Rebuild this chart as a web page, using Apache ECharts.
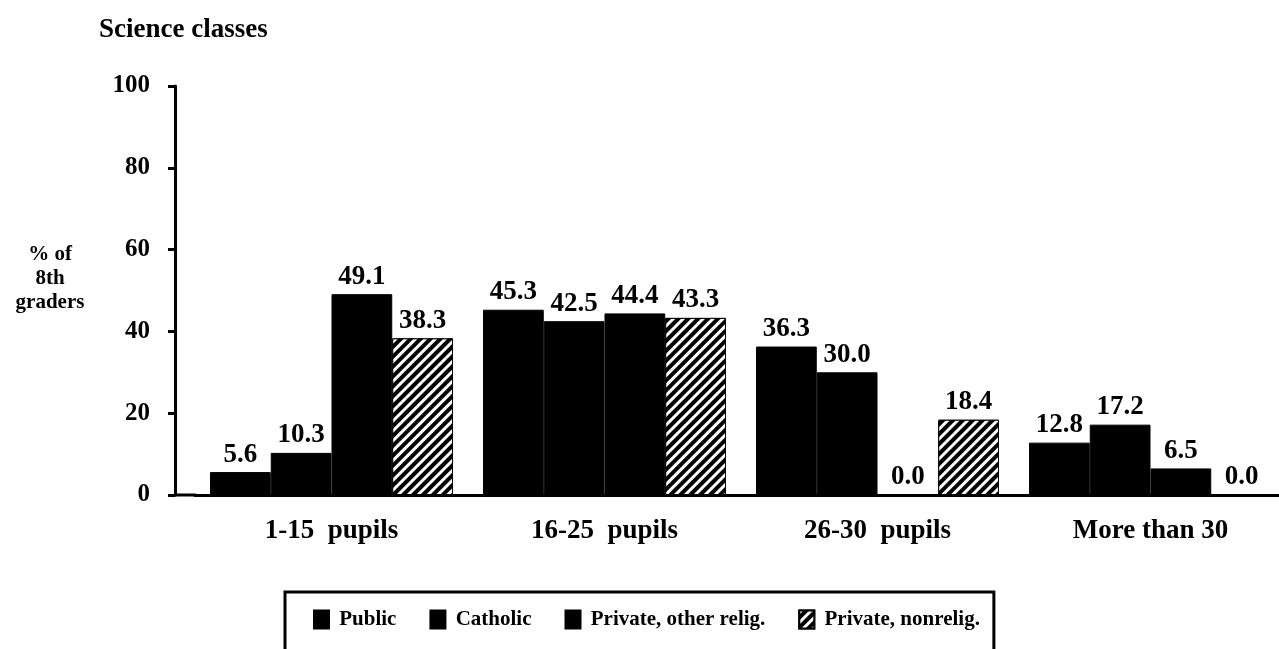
<!DOCTYPE html>
<html><head><meta charset="utf-8">
<script src="https://cdn.jsdelivr.net/npm/echarts@6/dist/echarts.min.js"></script>
<style>html,body{margin:0;padding:0;background:#fff}#c{width:1279px;height:649px}</style>
</head><body><div id="c"></div>
<script>
const categories = ['1-15  pupils', '16-25  pupils', '26-30  pupils', 'More than 30'];
const seriesNames = ['Public', 'Catholic', 'Private, other relig.', 'Private, nonrelig.'];
const publicVals = [5.6, 45.3, 36.3, 12.8];
const catholicVals = [10.3, 42.5, 30.0, 17.2];
const privOtherVals = [49.1, 44.4, 0.0, 6.5];
const privNonVals = [38.3, 43.3, 18.4, 0.0];
const yTicks = [0, 20, 40, 60, 80, 100];

const FONT = '"Liberation Serif", "DejaVu Serif", serif';
const allVals = [publicVals, catholicVals, privOtherVals, privNonVals];

const hatch = {
  symbol: 'rect', symbolSize: 1, color: '#fff',
  dashArrayX: [1, 0], dashArrayY: [3, 4], rotation: -Math.PI / 4
};

const series = seriesNames.map((name, i) => ({
  name, type: 'bar', data: allVals[i],
  barGap: '0%', barCategoryGap: '11%',
  itemStyle: Object.assign({ color: '#000', borderColor: '#000', borderWidth: 1 }, i === 3 ? { decal: hatch } : {}),
  label: {
    show: true, position: 'top', distance: 4,
    formatter: p => p.value.toFixed(1),
    fontFamily: FONT, fontWeight: 'bold', fontSize: 27, color: '#000'
  }
}));

const chart = echarts.init(document.getElementById('c'));
chart.setOption({
  animation: false,
  aria: { enabled: false },
  title: {
    text: 'Science classes', left: 94, top: 12,
    textStyle: { fontFamily: FONT, fontWeight: 'bold', fontSize: 27, color: '#000' }
  },
  grid: { left: 195, top: 86, width: 1092, height: 409, containLabel: false, outerBoundsMode: 'none' },
  xAxis: {
    type: 'category', data: categories,
    axisLine: { show: true, lineStyle: { color: '#000', width: 3 } },
    axisTick: { show: false },
    axisLabel: { margin: 23, fontFamily: FONT, fontWeight: 'bold', fontSize: 27, color: '#000' }
  },
  yAxis: {
    type: 'value', min: 0, max: 100, interval: 20, offset: 20,
    splitLine: { show: false },
    axisLine: { show: true, lineStyle: { color: '#000', width: 3 } },
    axisTick: { show: true, length: 7, lineStyle: { color: '#000', width: 3 } },
    axisLabel: {
      margin: 25, fontFamily: FONT, fontWeight: 'bold', fontSize: 25, color: '#000',
      formatter: v => yTicks.includes(v) ? String(v) : ''
    },
    name: '% of\n8th\ngraders\n', nameLocation: 'middle', nameRotate: 0, nameGap: 125,
    nameTextStyle: { fontFamily: FONT, fontWeight: 'bold', fontSize: 21, color: '#000', align: 'center', lineHeight: 24 }
  },
  legend: {
    data: seriesNames, left: 285, top: 592, orient: 'horizontal',
    icon: 'rect',
    borderColor: '#000', borderWidth: 3, borderRadius: 0,
    padding: [17, 14, 40, 28], itemGap: 33, itemWidth: 15, itemHeight: 18,
    formatter: n => ' ' + n,
    textStyle: { fontFamily: FONT, fontWeight: 'bold', fontSize: 21, color: '#000' }
  },
  graphic: [{
    type: 'line', shape: { x1: 175, y1: 495, x2: 196, y2: 495 },
    style: { stroke: '#000', lineWidth: 3 }
  }],
  series
});
</script></body></html>
